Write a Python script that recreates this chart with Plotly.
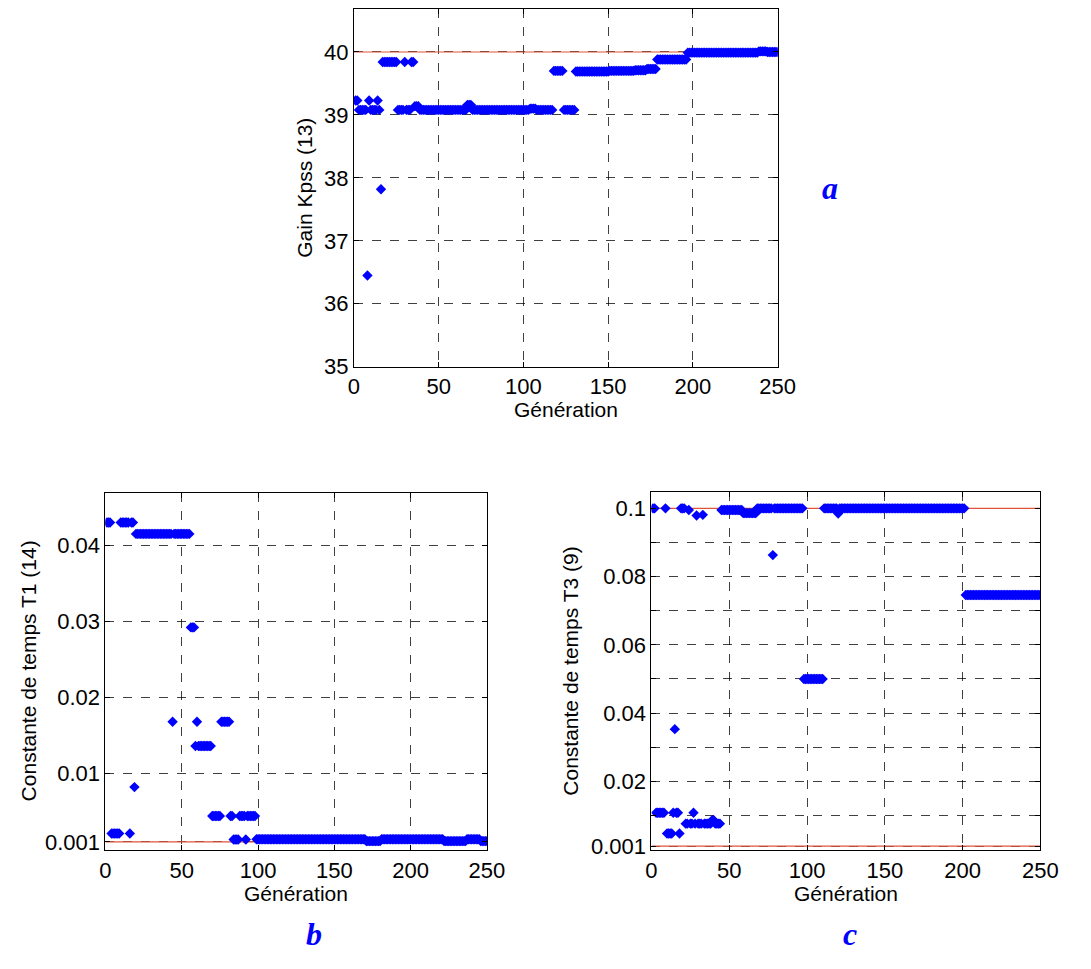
import plotly.graph_objects as go

# ---------------- data ----------------
# run-length description of the best value per generation (value, number of generations)
kpss_vals = [39.23, 39.08, 36.45, 39.23, 39.08, 39.23, 39.08, 37.82, 39.84, 39.08,
             39.84, 39.08, 39.84, 39.14, 39.08, 39.16, 39.08, 39.10, 39.08, 39.70,
             39.08, 39.69, 39.70, 39.71, 39.73, 39.88, 39.99, 40.01, 40.00]
kpss_runs = [2, 5, 1, 1, 4, 1, 1, 1, 9, 4,
             1, 3, 2, 3, 28, 3, 34, 4, 10, 6,
             7, 20, 15, 7, 6, 18, 42, 5, 7]

t1_vals = [0.0430, 0.0021, 0.0430, 0.0021, 0.0430, 0.0082, 0.0415, 0.0168, 0.0415, 0.0292,
           0.0136, 0.0168, 0.0136, 0.0044, 0.0168, 0.0044, 0.0013, 0.0044, 0.0013, 0.0044,
           0.00135, 0.0011, 0.00135, 0.0011, 0.00135, 0.0011]
t1_runs = [3, 6, 6, 1, 2, 1, 24, 1, 11, 3,
           1, 1, 9, 6, 6, 2, 4, 4, 1, 6,
           72, 10, 41, 15, 9, 5]

t3_vals = [0.1, 0.0108, 0.1, 0.0047, 0.0108, 0.0353, 0.0108, 0.0047, 0.1, 0.0076,
           0.0995, 0.0076, 0.0108, 0.0076, 0.0979, 0.0076, 0.0981, 0.0076, 0.0086, 0.0076,
           0.0995, 0.0986, 0.1, 0.0863, 0.1, 0.05, 0.1, 0.0985, 0.1, 0.0746]
t3_runs = [2, 6, 1, 4, 1, 1, 2, 1, 3, 2,
           1, 2, 1, 1, 1, 3, 1, 5, 2, 4,
           14, 9, 10, 1, 19, 13, 9, 1, 81, 49]

kpss_bounds = [40]
t1_bounds = [0.001]
t3_bounds = [0.1, 0.001]
bound_x = [0, 250]

x_ticks = [0, 50, 100, 150, 200, 250]
kpss_ticks = [35, 36, 37, 38, 39, 40]
t1_ticks = [0.001, 0.01, 0.02, 0.03, 0.04]
t1_labels = ["0.001", "0.01", "0.02", "0.03", "0.04"]
t3_ticks = [0.001, 0.01, 0.02, 0.03, 0.04, 0.05, 0.06, 0.07, 0.08, 0.09, 0.1]
t3_labels = ["0.001", "", "0.02", "", "0.04", "", "0.06", "", "0.08", "", "0.1"]


def expand(vals, runs):
    out = []
    for v, n in zip(vals, runs):
        out.extend([v] * n)
    return out


kpss = expand(kpss_vals, kpss_runs)
t1 = expand(t1_vals, t1_runs)
t3 = expand(t3_vals, t3_runs)
gen = list(range(1, len(kpss) + 1))

W, H = 1091, 969
FONT = "Liberation Sans, Arial, Helvetica, sans-serif"
BLUE = "#0000ff"
RED = "#e0553a"

fig = go.Figure()

panels = [
    ("x", "y", kpss, kpss_bounds),
    ("x2", "y2", t1, t1_bounds),
    ("x3", "y3", t3, t3_bounds),
]
for xa, ya, vals, bounds in panels:
    for b in bounds:
        fig.add_trace(go.Scatter(x=bound_x, y=[b, b], mode="lines",
                                 line=dict(color=RED, width=1.2),
                                 xaxis=xa, yaxis=ya, showlegend=False, hoverinfo="skip"))
    fig.add_trace(go.Scatter(x=gen, y=vals, mode="markers",
                             marker=dict(symbol="diamond", size=8, color=BLUE,
                                         line=dict(width=0)),
                             xaxis=xa, yaxis=ya, showlegend=False))


def px_dom_x(a, b):
    return [a / W, b / W]


def px_dom_y(top, bottom):
    return [1 - bottom / H, 1 - top / H]


common = dict(showline=True, linecolor="black", linewidth=1, mirror="ticks",
              ticks="inside", ticklen=5, tickcolor="black",
              showgrid=True, gridcolor="rgba(0,0,0,0.75)", griddash="dash", gridwidth=1,
              zeroline=False, tickfont=dict(family=FONT, size=22, color="black"))

fig.update_layout(
    width=W, height=H, margin=dict(l=0, r=0, t=0, b=0),
    paper_bgcolor="white", plot_bgcolor="white",
    xaxis=dict(domain=px_dom_x(355.7, 789), range=[0, 250], tickvals=x_ticks, anchor="y", **common),
    yaxis=dict(domain=px_dom_y(9, 371.7), range=[35, 40.685], tickvals=kpss_ticks, anchor="x", **common),
    xaxis2=dict(domain=px_dom_x(101.7, 491.7), range=[0, 250], tickvals=x_ticks, anchor="y2", **common),
    yaxis2=dict(domain=px_dom_y(499.3, 861.7), range=[-0.00009, 0.04693], tickvals=t1_ticks,
                ticktext=t1_labels, anchor="x2", **common),
    xaxis3=dict(domain=px_dom_x(660, 1057.7), range=[0, 250], tickvals=x_ticks, anchor="y3", **common),
    yaxis3=dict(domain=px_dom_y(499, 861.7), range=[-0.00016, 0.1047], tickvals=t3_ticks,
                ticktext=t3_labels, anchor="x3", **common),
)

title_font = dict(family=FONT, size=21, color="black")
letter_font = dict(family="Liberation Serif, Times New Roman, serif", size=32, color=BLUE)


def ann(text, x, y, font, angle=0):
    fig.add_annotation(text=text, x=x / W, y=1 - y / H, xref="paper", yref="paper",
                       showarrow=False, font=font, textangle=angle,
                       xanchor="center", yanchor="middle")


ann("Génération", 572.3, 415, title_font)
ann("Génération", 296.7, 906, title_font)
ann("Génération", 858.8, 906, title_font)
ann("Gain Kpss (13)", 305, 190, title_font, -90)
ann("Constante de temps T1 (14)", 22.5, 680.5, title_font, -90)
ann("Constante de temps T3 (9)", 577, 680.5, title_font, -90)
ann("<b><i>a</i></b>", 843, 191, letter_font)
ann("<b><i>b</i></b>", 315, 947, letter_font)
ann("<b><i>c</i></b>", 863, 947, letter_font)

fig.write_html("out.html", config={"displayModeBar": False},
               post_script="document.body.style.margin='0';document.body.style.overflow='hidden';")
